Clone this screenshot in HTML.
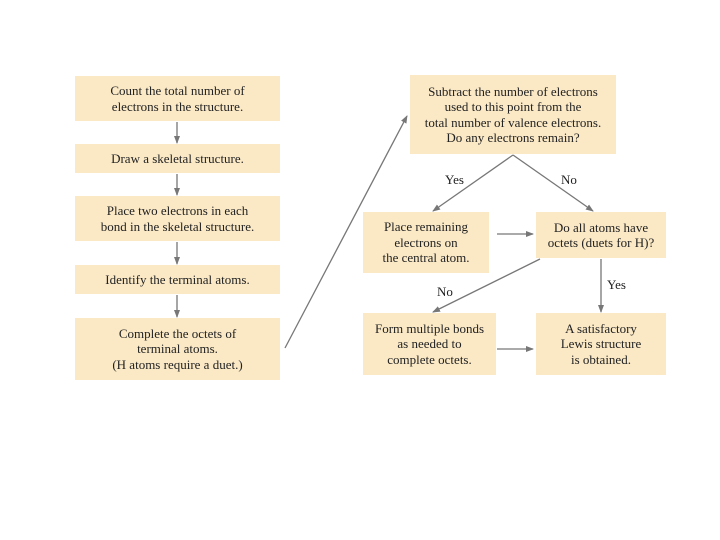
<!DOCTYPE html>
<html><head><style>
body{margin:0;width:720px;height:540px;background:#fff;position:relative;font-family:"Liberation Serif",serif;color:#222;overflow:hidden}
.b{position:absolute;background:#fbe9c6;display:flex;align-items:center;justify-content:center;text-align:center;font-size:13px;line-height:15.5px}
.l{position:absolute;font-size:13px}
svg{position:absolute;left:0;top:0}
</style></head><body>
<div class="b" style="left:75px;top:76px;width:205px;height:45px">Count the total number of<br>electrons in the structure.</div>
<div class="b" style="left:75px;top:144px;width:205px;height:29px">Draw a skeletal structure.</div>
<div class="b" style="left:75px;top:196px;width:205px;height:45px">Place two electrons in each<br>bond in the skeletal structure.</div>
<div class="b" style="left:75px;top:265px;width:205px;height:29px">Identify the terminal atoms.</div>
<div class="b" style="left:75px;top:318px;width:205px;height:62px">Complete the octets of<br>terminal atoms.<br>(H atoms require a duet.)</div>
<div class="b" style="left:410px;top:75px;width:206px;height:79px">Subtract the number of electrons<br>used to this point from the<br>total number of valence electrons.<br>Do any electrons remain?</div>
<div class="b" style="left:363px;top:212px;width:126px;height:61px">Place remaining<br>electrons on<br>the central atom.</div>
<div class="b" style="left:536px;top:212px;width:130px;height:46px">Do all atoms have<br>octets (duets for H)?</div>
<div class="b" style="left:363px;top:313px;width:133px;height:62px">Form multiple bonds<br>as needed to<br>complete octets.</div>
<div class="b" style="left:536px;top:313px;width:130px;height:62px">A satisfactory<br>Lewis structure<br>is obtained.</div>
<div class="l" style="left:445px;top:172px">Yes</div>
<div class="l" style="left:561px;top:172px">No</div>
<div class="l" style="left:437px;top:284px">No</div>
<div class="l" style="left:607px;top:277px">Yes</div>
<svg width="720" height="540">
<defs><marker id="a" markerWidth="8" markerHeight="8" refX="7" refY="4" orient="auto" markerUnits="userSpaceOnUse"><path d="M0,1 L8,4 L0,7 Z" fill="#777"/></marker></defs>
<g stroke="#777" stroke-width="1.3" fill="none" marker-end="url(#a)">
<line x1="177" y1="122" x2="177" y2="143"/>
<line x1="177" y1="174" x2="177" y2="195"/>
<line x1="177" y1="242" x2="177" y2="264"/>
<line x1="177" y1="295" x2="177" y2="317"/>
<line x1="285" y1="348" x2="407" y2="116"/>
<line x1="513" y1="155" x2="433" y2="211"/>
<line x1="513" y1="155" x2="593" y2="211"/>
<line x1="497" y1="234" x2="533" y2="234"/>
<line x1="540" y1="259" x2="433" y2="312"/>
<line x1="601" y1="259" x2="601" y2="312"/>
<line x1="497" y1="349" x2="533" y2="349"/>
</g></svg>
</body></html>
